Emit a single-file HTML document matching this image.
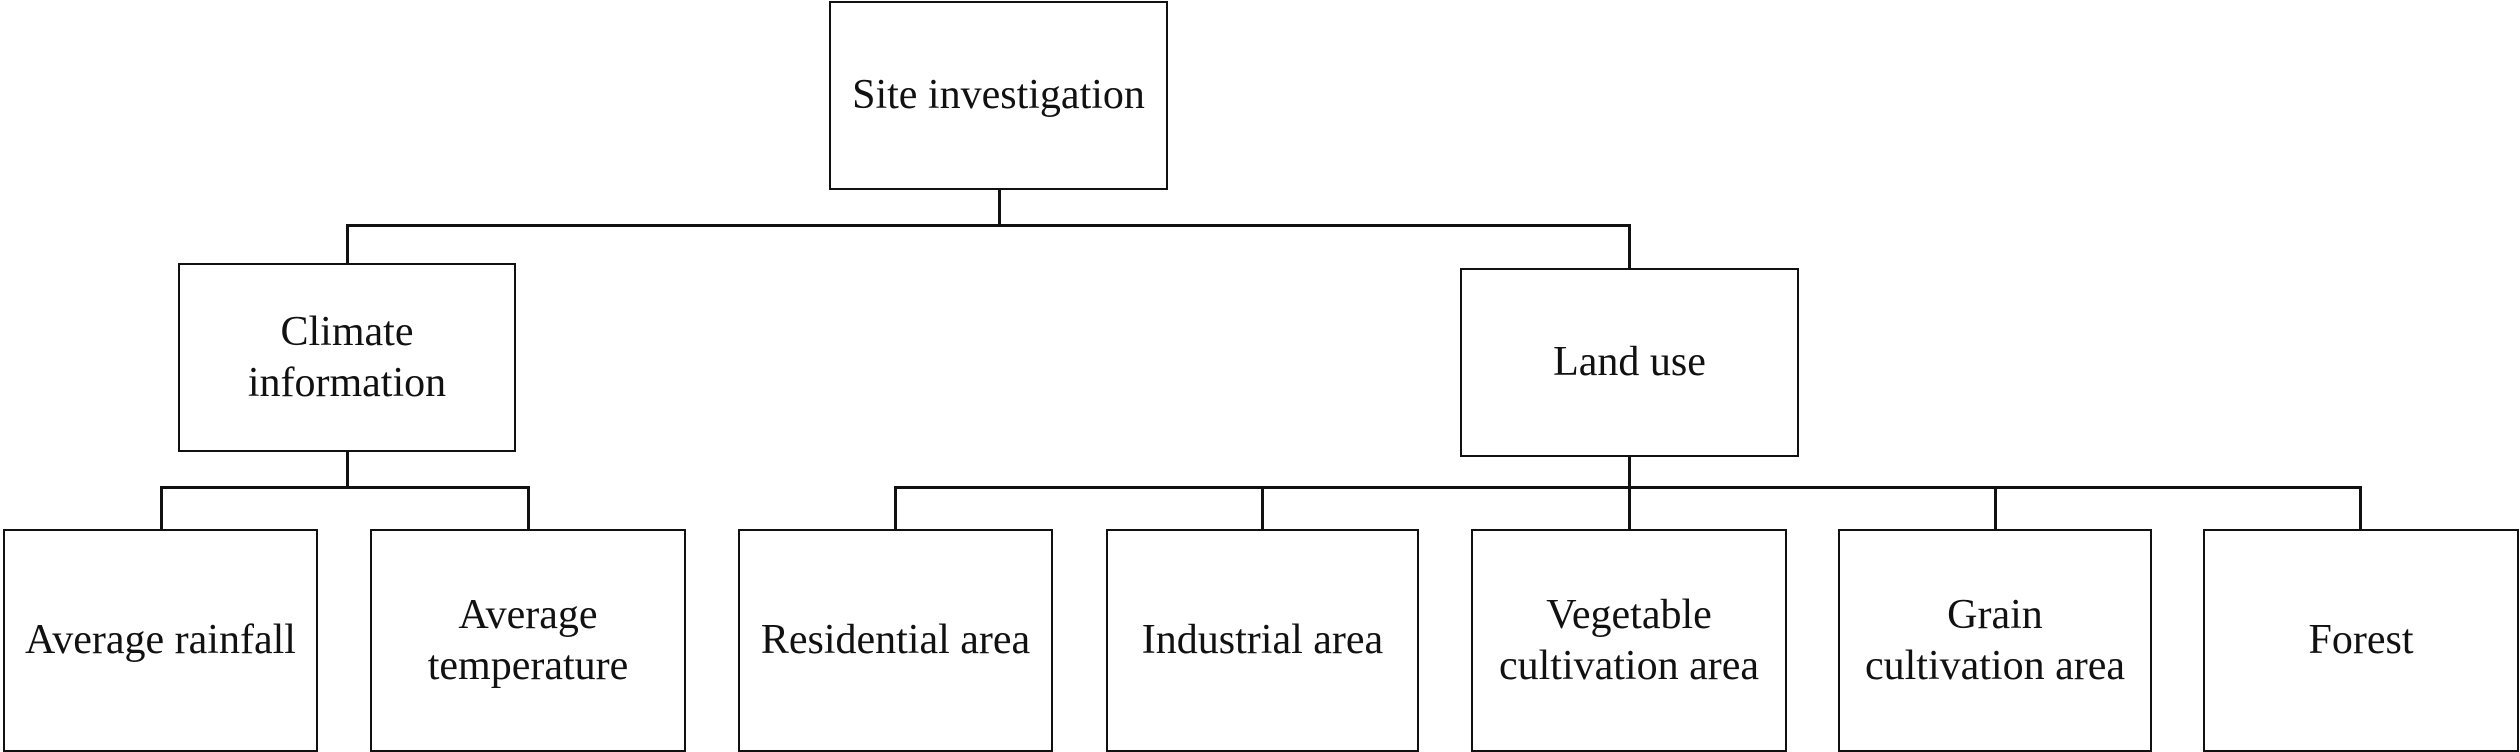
<!DOCTYPE html>
<html><head><style>
body{margin:0;background:#fff;width:2520px;height:752px;overflow:hidden;position:relative;font-family:"Liberation Serif",serif;}
.b{position:absolute;border:2.5px solid #111;box-sizing:border-box;display:flex;align-items:center;justify-content:center;text-align:center;font-size:42px;line-height:51px;color:#111;background:#fff}
.l{position:absolute;background:#111}
</style></head><body>
<div class="l" style="left:998px;top:188px;width:2.5px;height:38px"></div>
<div class="l" style="left:346px;top:224px;width:1284px;height:2.5px"></div>
<div class="l" style="left:346px;top:224px;width:2.5px;height:40px"></div>
<div class="l" style="left:1628px;top:224px;width:2.5px;height:45px"></div>
<div class="l" style="left:346px;top:451px;width:2.5px;height:37px"></div>
<div class="l" style="left:160px;top:486px;width:369px;height:2.5px"></div>
<div class="l" style="left:160px;top:486px;width:2.5px;height:44px"></div>
<div class="l" style="left:527px;top:486px;width:2.5px;height:44px"></div>
<div class="l" style="left:1628px;top:455px;width:2.5px;height:75px"></div>
<div class="l" style="left:894px;top:486px;width:1468px;height:2.5px"></div>
<div class="l" style="left:894px;top:486px;width:2.5px;height:44px"></div>
<div class="l" style="left:1261px;top:486px;width:2.5px;height:44px"></div>
<div class="l" style="left:1994px;top:486px;width:2.5px;height:44px"></div>
<div class="l" style="left:2359px;top:486px;width:2.5px;height:44px"></div>

<div class="b" style="left:829px;top:1px;width:339px;height:189px">Site investigation</div>
<div class="b" style="left:178px;top:263px;width:338px;height:189px">Climate<br>information</div>
<div class="b" style="left:1460px;top:268px;width:339px;height:189px">Land use</div>
<div class="b" style="left:3px;top:529px;width:315px;height:223px">Average rainfall</div>
<div class="b" style="left:370px;top:529px;width:316px;height:223px">Average<br>temperature</div>
<div class="b" style="left:738px;top:529px;width:315px;height:223px">Residential area</div>
<div class="b" style="left:1106px;top:529px;width:313px;height:223px">Industrial area</div>
<div class="b" style="left:1471px;top:529px;width:316px;height:223px">Vegetable<br>cultivation area</div>
<div class="b" style="left:1838px;top:529px;width:314px;height:223px">Grain<br>cultivation area</div>
<div class="b" style="left:2203px;top:529px;width:316px;height:223px">Forest</div>
</body></html>
